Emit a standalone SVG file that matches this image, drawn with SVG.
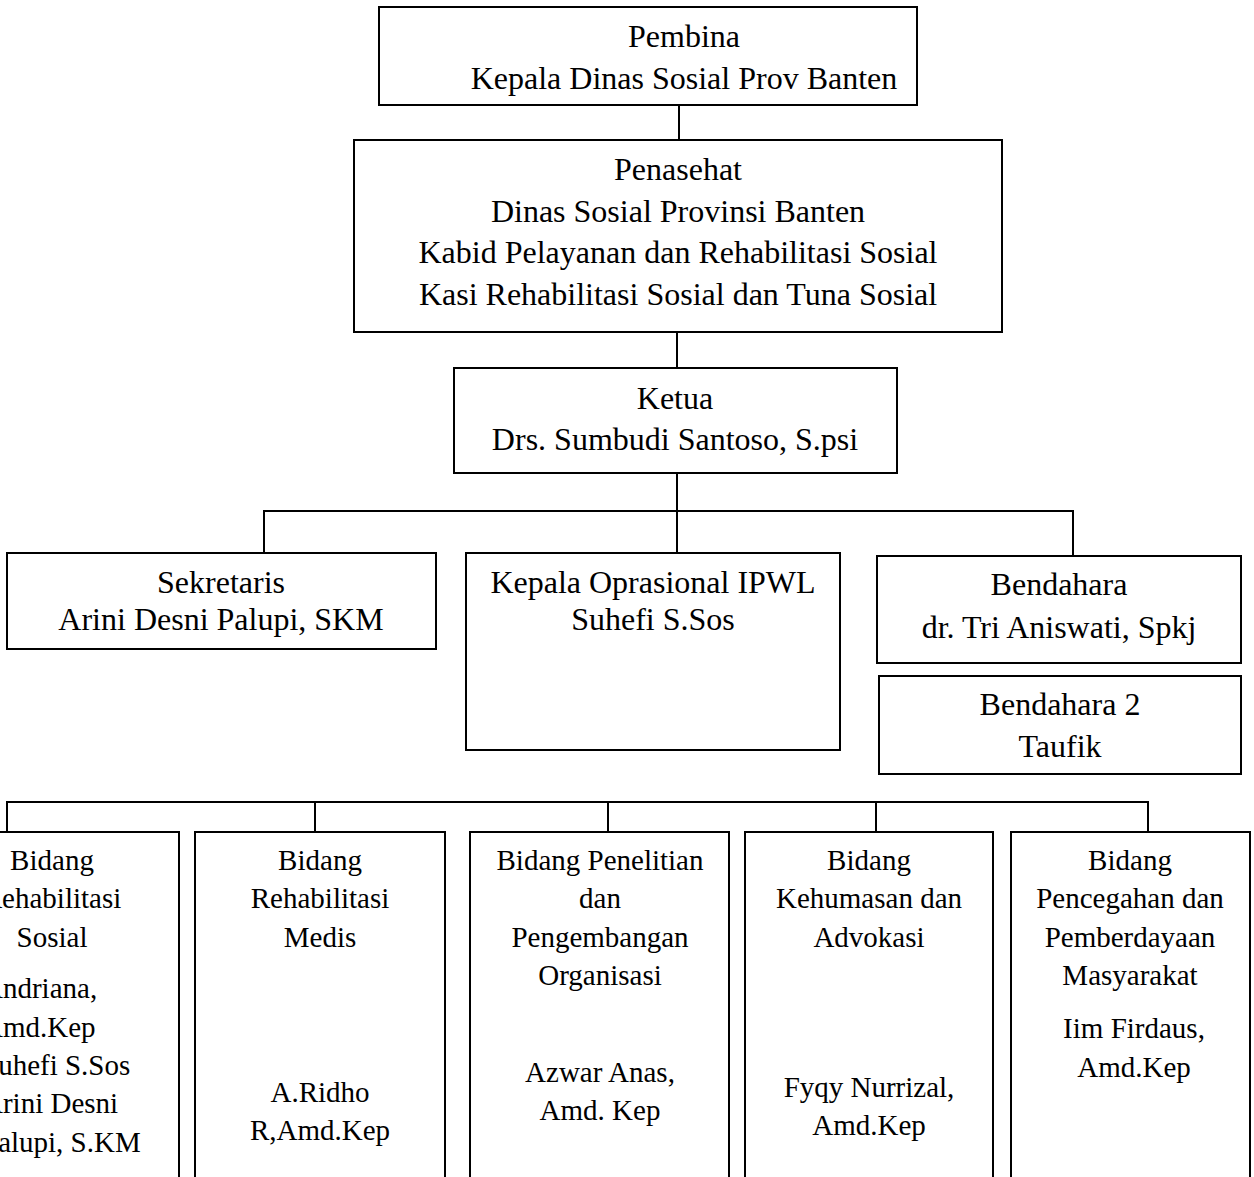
<svg xmlns="http://www.w3.org/2000/svg" width="1254" height="1177" viewBox="0 0 1254 1177">
<style>
.box{fill:#fff;stroke:#000;stroke-width:2}
.ln{stroke:#000;stroke-width:2;fill:none}
text{font-family:"Liberation Serif","Times New Roman",serif;fill:#000;text-anchor:middle}
.t{font-size:32px}
.b{font-size:29px}
.l{text-anchor:start}
</style>
<rect width="1254" height="1177" fill="#fff"/>
<g id="connectors">
<line class="ln" x1="679" y1="105" x2="679" y2="140"/>
<line class="ln" x1="677" y1="332" x2="677" y2="368"/>
<line class="ln" x1="677" y1="473" x2="677" y2="553"/>
<line class="ln" x1="263" y1="511" x2="1074" y2="511"/>
<line class="ln" x1="264" y1="511" x2="264" y2="553"/>
<line class="ln" x1="1073" y1="511" x2="1073" y2="556"/>
<line class="ln" x1="6" y1="802" x2="1149" y2="802"/>
<line class="ln" x1="7" y1="802" x2="7" y2="832"/>
<line class="ln" x1="315" y1="802" x2="315" y2="832"/>
<line class="ln" x1="608" y1="802" x2="608" y2="832"/>
<line class="ln" x1="876" y1="802" x2="876" y2="832"/>
<line class="ln" x1="1148" y1="802" x2="1148" y2="832"/>
</g>
<g id="pembina">
<rect class="box" x="379" y="7" width="538" height="98"/>
<text class="t" x="684" y="47">Pembina</text>
<text class="t" x="684" y="89">Kepala Dinas Sosial Prov Banten</text>
</g>
<g id="penasehat">
<rect class="box" x="354" y="140" width="648" height="192"/>
<text class="t" x="678" y="180">Penasehat</text>
<text class="t" x="678" y="222">Dinas Sosial Provinsi Banten</text>
<text class="t" x="678" y="263">Kabid Pelayanan dan Rehabilitasi Sosial</text>
<text class="t" x="678" y="305">Kasi Rehabilitasi Sosial dan Tuna Sosial</text>
</g>
<g id="ketua">
<rect class="box" x="454" y="368" width="443" height="105"/>
<text class="t" x="675" y="409">Ketua</text>
<text class="t" x="675" y="450">Drs. Sumbudi Santoso, S.psi</text>
</g>
<g id="sekretaris">
<rect class="box" x="7" y="553" width="429" height="96"/>
<text class="t" x="221" y="593">Sekretaris</text>
<text class="t" x="221" y="630">Arini Desni Palupi, SKM</text>
</g>
<g id="kepala-oprasional">
<rect class="box" x="466" y="553" width="374" height="197"/>
<text class="t" x="653" y="593">Kepala Oprasional IPWL</text>
<text class="t" x="653" y="630">Suhefi S.Sos</text>
</g>
<g id="bendahara">
<rect class="box" x="877" y="556" width="364" height="107"/>
<text class="t" x="1059" y="595">Bendahara</text>
<text class="t" x="1059" y="638">dr. Tri Aniswati, Spkj</text>
</g>
<g id="bendahara2">
<rect class="box" x="879" y="676" width="362" height="98"/>
<text class="t" x="1060" y="715">Bendahara 2</text>
<text class="t" x="1060" y="757">Taufik</text>
</g>
<g id="bidang-rehsos">
<rect class="box" x="-75" y="832" width="254" height="360"/>
<text class="b" x="52" y="870">Bidang</text>
<text class="b" x="52" y="908">Rehabilitasi</text>
<text class="b" x="52" y="947">Sosial</text>
<text class="b l" x="-18" y="998">Andriana,</text>
<text class="b l" x="-18" y="1037">Amd.Kep</text>
<text class="b l" x="-18" y="1075">Suhefi S.Sos</text>
<text class="b l" x="-18" y="1113">Arini Desni</text>
<text class="b l" x="-18" y="1152">Palupi, S.KM</text>
</g>
<g id="bidang-rehmed">
<rect class="box" x="195" y="832" width="250" height="360"/>
<text class="b" x="320" y="870">Bidang</text>
<text class="b" x="320" y="908">Rehabilitasi</text>
<text class="b" x="320" y="947">Medis</text>
<text class="b" x="320" y="1102">A.Ridho</text>
<text class="b" x="320" y="1140">R,Amd.Kep</text>
</g>
<g id="bidang-penelitian">
<rect class="box" x="470" y="832" width="259" height="360"/>
<text class="b" x="600" y="870">Bidang Penelitian</text>
<text class="b" x="600" y="908">dan</text>
<text class="b" x="600" y="947">Pengembangan</text>
<text class="b" x="600" y="985">Organisasi</text>
<text class="b" x="600" y="1082">Azwar Anas,</text>
<text class="b" x="600" y="1120">Amd. Kep</text>
</g>
<g id="bidang-kehumasan">
<rect class="box" x="745" y="832" width="248" height="360"/>
<text class="b" x="869" y="870">Bidang</text>
<text class="b" x="869" y="908">Kehumasan dan</text>
<text class="b" x="869" y="947">Advokasi</text>
<text class="b" x="869" y="1097">Fyqy Nurrizal,</text>
<text class="b" x="869" y="1135">Amd.Kep</text>
</g>
<g id="bidang-pencegahan">
<rect class="box" x="1011" y="832" width="239" height="360"/>
<text class="b" x="1130" y="870">Bidang</text>
<text class="b" x="1130" y="908">Pencegahan dan</text>
<text class="b" x="1130" y="947">Pemberdayaan</text>
<text class="b" x="1130" y="985">Masyarakat</text>
<text class="b" x="1134" y="1038">Iim Firdaus,</text>
<text class="b" x="1134" y="1077">Amd.Kep</text>
</g>
</svg>
